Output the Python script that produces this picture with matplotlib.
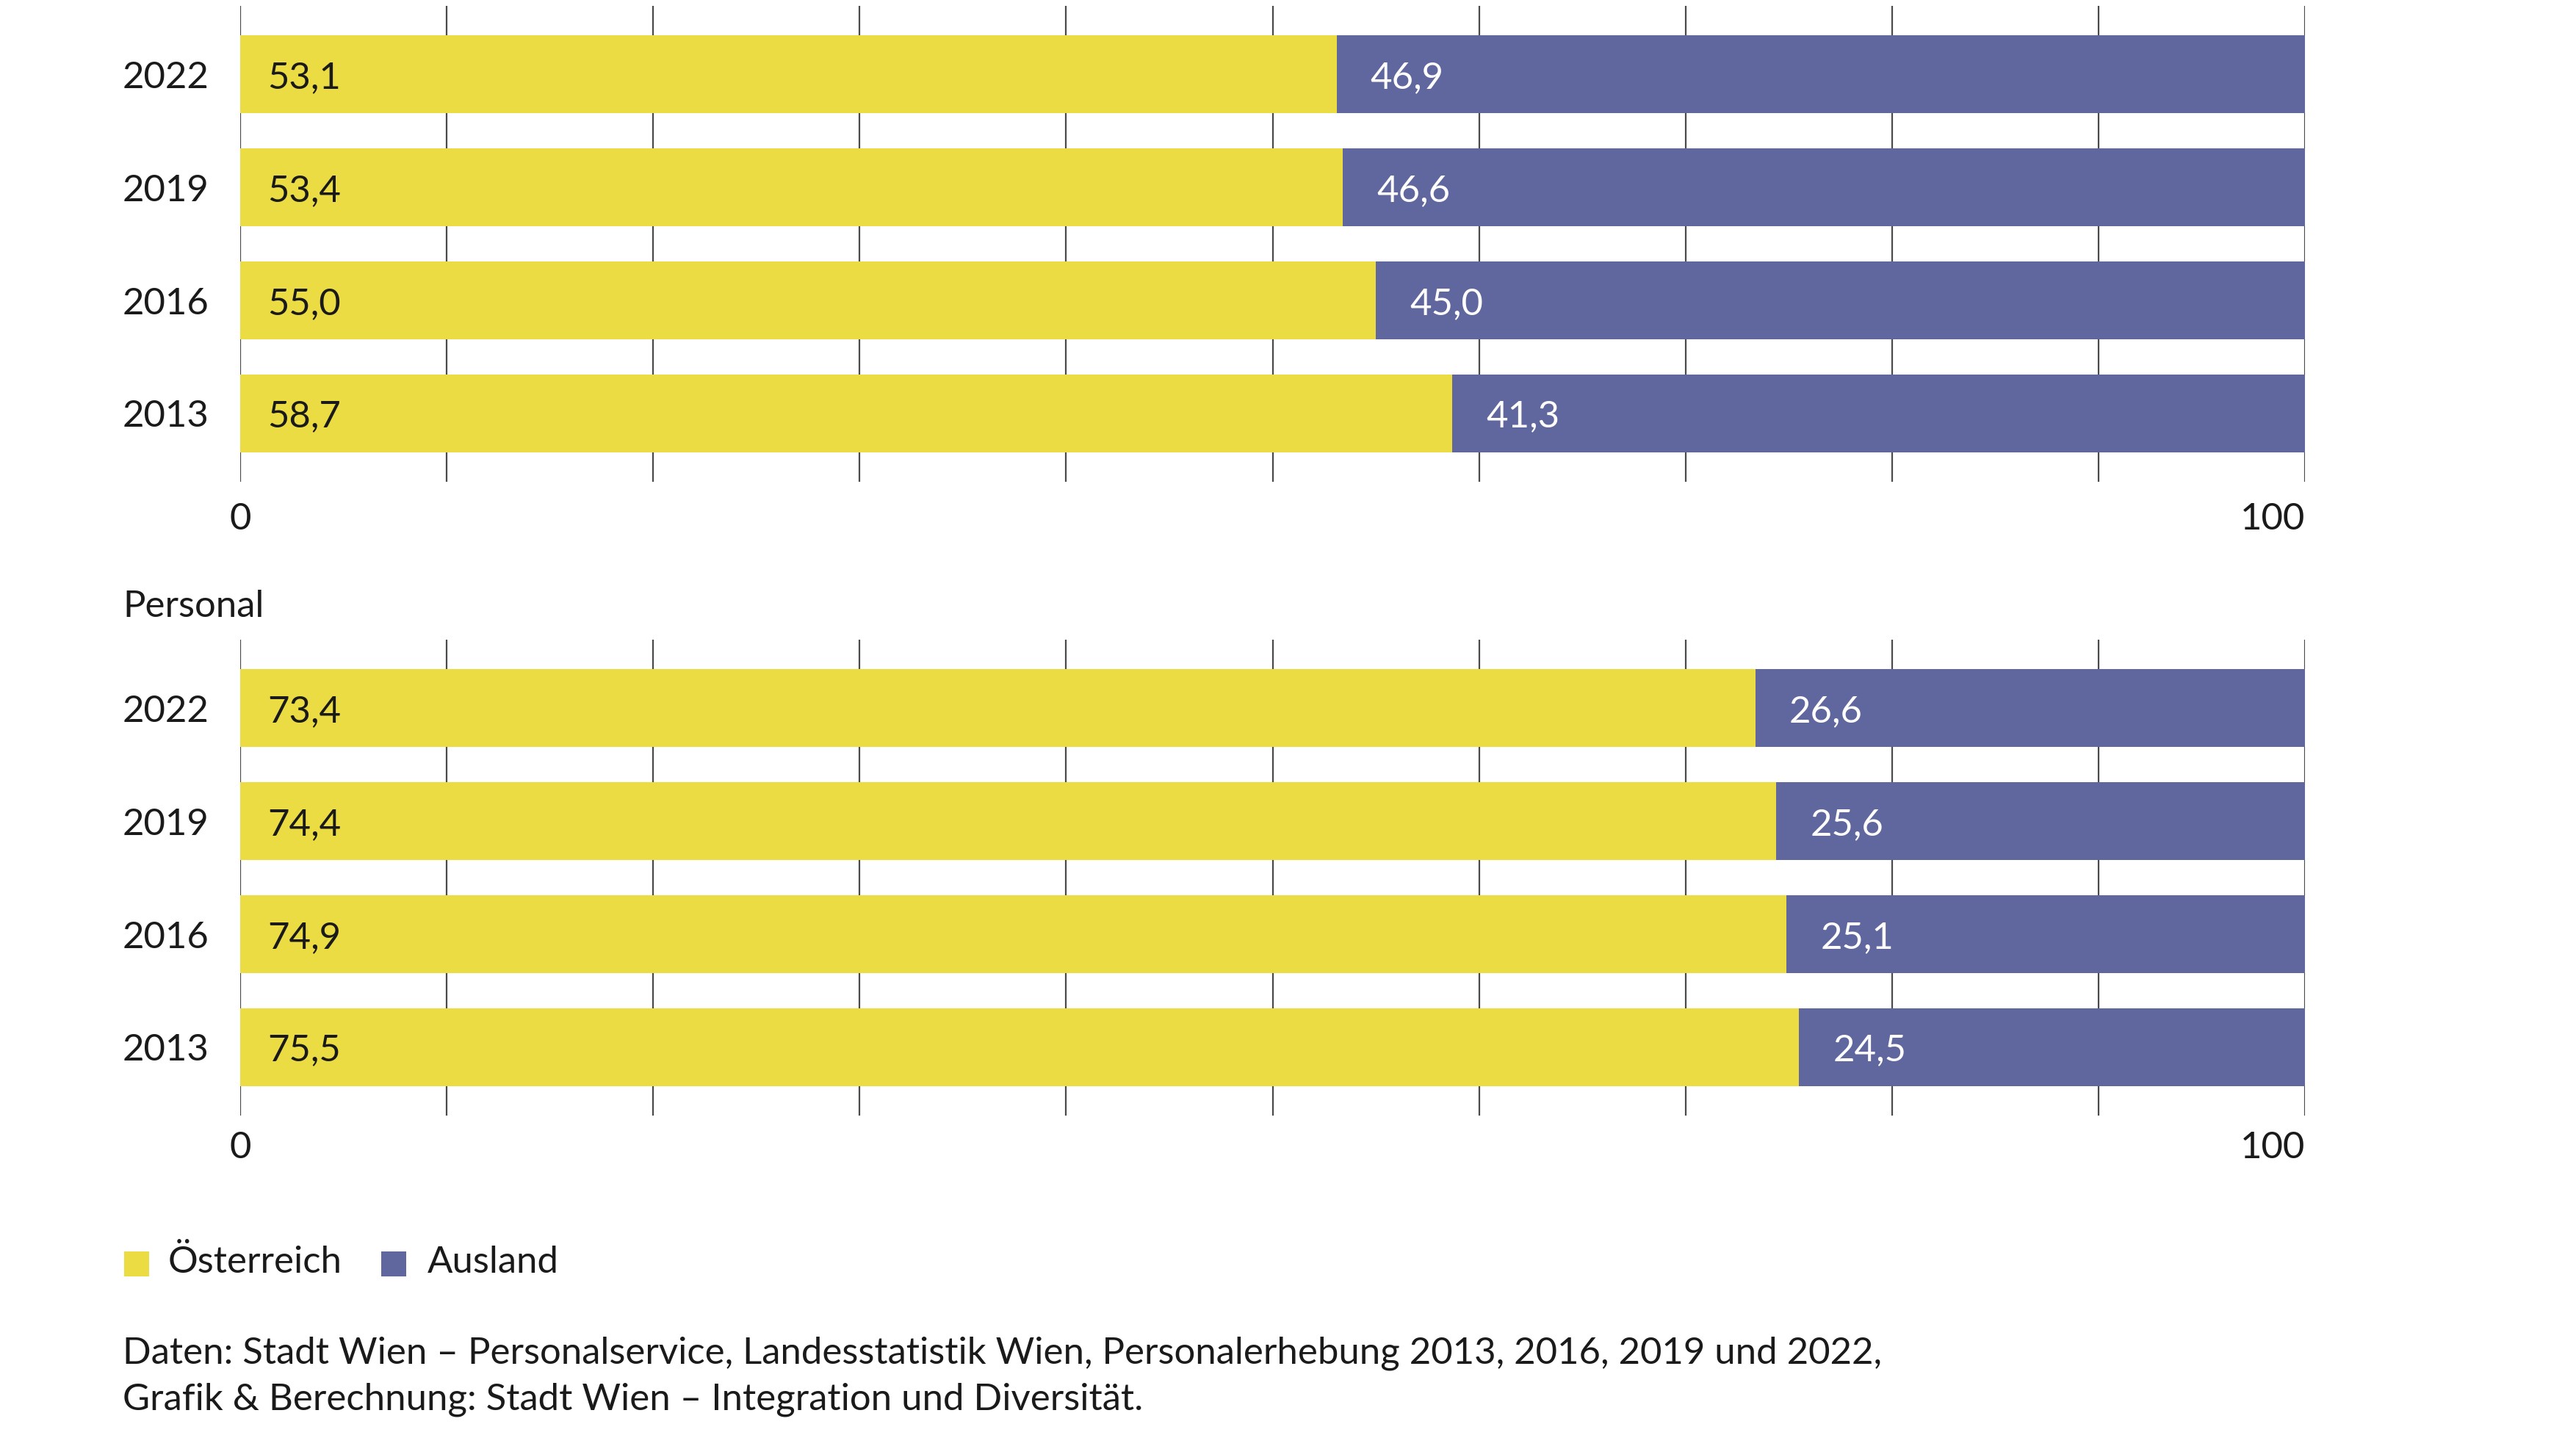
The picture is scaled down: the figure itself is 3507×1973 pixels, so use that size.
import matplotlib
matplotlib.use("Agg")
import matplotlib.pyplot as plt
from matplotlib.patches import Rectangle
from matplotlib.transforms import blended_transform_factory

plt.rcParams['font.family'] = ['Lato', 'DejaVu Sans']

years = ["2013", "2016", "2019", "2022"]
top_oesterreich = [58.7, 55.0, 53.4, 53.1]
top_ausland = [41.3, 45.0, 46.6, 46.9]
pers_oesterreich = [75.5, 74.9, 74.4, 73.4]
pers_ausland = [24.5, 25.1, 25.6, 26.6]
legend_labels = ["Österreich", "Ausland"]
x_ticks = [0, 100]
panel_title = "Personal"
source_lines = ["Daten: Stadt Wien – Personalservice, Landesstatistik Wien, Personalerhebung 2013, 2016, 2019 und 2022,",
                "Grafik & Berechnung: Stadt Wien – Integration und Diversität."]

YELLOW = "#ECDC44"
BLUE = "#5F679E"
GRID = "#4a4a4a"
TXT = "#1a1a1a"
FS = 36.6

W, H = 3507, 1973
fig = plt.figure(figsize=(W / 100, H / 100), dpi=100)

def fx(px):
    return px / W

def fy(py):
    return 1 - py / H

x0_px, x1_px = 327, 3138

def make_panel(top_px, bottom_px, oe, au):
    ax = fig.add_axes([fx(x0_px), fy(bottom_px), fx(x1_px - x0_px), (bottom_px - top_px) / H])
    ypos = list(range(len(years)))
    ax.set_xlim(0, 100)
    ax.set_ylim(-0.608, len(years) - 1 + 0.608)
    for g in range(0, 101, 10):
        ax.axvline(g, color=GRID, lw=1.6, zorder=0)
    ax.barh(ypos, oe, height=0.69, color=YELLOW, zorder=2, linewidth=0)
    ax.barh(ypos, au, left=oe, height=0.69, color=BLUE, zorder=2, linewidth=0)
    for y, a, b in zip(ypos, oe, au):
        ax.annotate(f"{a:.1f}".replace(".", ","), xy=(0, y), xytext=(27, -3.5),
                    textcoords="offset points", ha="left", va="center",
                    fontsize=FS, color=TXT, zorder=3)
        ax.annotate(f"{b:.1f}".replace(".", ","), xy=(a, y), xytext=(33, -3.5),
                    textcoords="offset points", ha="left", va="center",
                    fontsize=FS, color="white", zorder=3)
    tr = blended_transform_factory(fig.transFigure, ax.transData)
    for y, lab in zip(ypos, years):
        ax.annotate(lab, xy=(fx(167), y), xycoords=tr, xytext=(0, -3.5),
                    textcoords="offset points", ha="left", va="center",
                    fontsize=FS, color=TXT)
    ax.set_axis_off()
    return ax

ax1 = make_panel(8, 656, top_oesterreich, top_ausland)
ax2 = make_panel(871, 1519, pers_oesterreich, pers_ausland)

for ax, ypx in [(ax1, 707), (ax2, 1563)]:
    trx = blended_transform_factory(ax.transData, fig.transFigure)
    ax.text(x_ticks[0], fy(ypx), str(x_ticks[0]), transform=trx, ha="center",
            va="center", fontsize=FS, color=TXT)
    ax.text(x_ticks[1], fy(ypx), str(x_ticks[1]), transform=trx, ha="right",
            va="center", fontsize=FS, color=TXT)

fig.text(fx(167), fy(826), panel_title, ha="left", va="center", fontsize=FS, color=TXT)

# legend
leg_y = 1721
for (sx, tx), lab, col in zip([(169, 229), (519, 582)], legend_labels, [YELLOW, BLUE]):
    fig.add_artist(Rectangle((fx(sx), fy(leg_y + 17)), fx(34), 34 / H,
                             transform=fig.transFigure, color=col, lw=0))
    fig.text(fx(tx), fy(leg_y - 2), lab, ha="left", va="center", fontsize=FS, color=TXT)

for ypx, line in zip([1843, 1906], source_lines):
    fig.text(fx(167), fy(ypx), line, ha="left", va="center", fontsize=FS, color=TXT)

fig.savefig("out.png", dpi=100, facecolor="white")
